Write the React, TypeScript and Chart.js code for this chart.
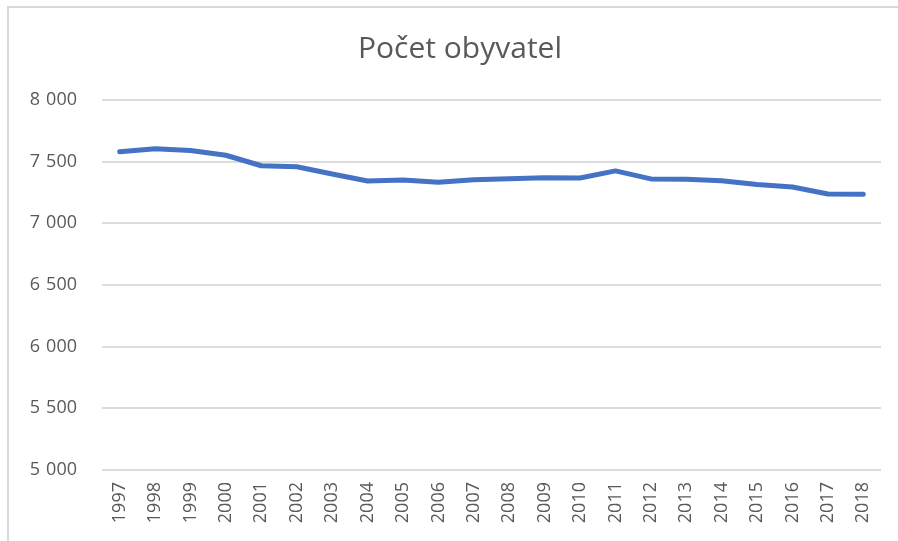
import React, { useEffect, useRef } from "react";
import { Chart, registerables } from "chart.js";

Chart.register(...registerables);

const years: string[] = [
  "1997", "1998", "1999", "2000", "2001", "2002", "2003", "2004", "2005", "2006", "2007",
  "2008", "2009", "2010", "2011", "2012", "2013", "2014", "2015", "2016", "2017", "2018",
];
const population: number[] = [
  7580, 7605, 7590, 7552, 7467, 7459, 7400, 7343, 7351, 7333, 7353,
  7362, 7370, 7368, 7425, 7360, 7357, 7346, 7314, 7295, 7238, 7235,
];
const chartTitle = "Počet obyvatel";
const yMin = 5000;
const yMax = 8000;
const yStep = 500;

const fmt = (v: number) => {
  const s = String(Math.round(v));
  return s.replace(/\B(?=(\d{3})+(?!\d))/g, "\u2004");
};

const FONT = "'Open Sans', 'Noto Sans', sans-serif";

const titlePlugin = {
  id: "centeredTitle",
  afterDraw(chart: any) {
    const ctx = chart.ctx;
    ctx.save();
    ctx.font = `normal 30px ${FONT}`;
    ctx.fillStyle = "#595959";
    ctx.textAlign = "center";
    ctx.textBaseline = "middle";
    ctx.fillText(chartTitle, chart.width / 2, 40);
    ctx.restore();
  },
};

export default function App() {
  const ref = useRef<HTMLCanvasElement | null>(null);
  useEffect(() => {
    if (!ref.current) return;
    const chart = new Chart(ref.current, {
      type: "line",
      data: {
        labels: years,
        datasets: [
          {
            data: population,
            borderColor: "#4472C4",
            backgroundColor: "#4472C4",
            borderWidth: 5,
            pointRadius: 0,
            tension: 0,
            borderCapStyle: "round",
            borderJoinStyle: "round",
          },
        ],
      },
      plugins: [titlePlugin],
      options: {
        animation: false,
        responsive: false,
        maintainAspectRatio: false,
        layout: { padding: { top: 91, right: 29, left: 0, bottom: 0 } },
        plugins: {
          legend: { display: false },
          tooltip: { enabled: false },
          title: { display: false },
        },
        scales: {
          x: {
            type: "category",
            offset: true,
            grid: { display: false, drawTicks: false },
            border: { display: false },
            ticks: {
              color: "#595959",
              font: { family: FONT, size: 18 },
              minRotation: 90,
              maxRotation: 90,
              autoSkip: false,
              padding: 12,
            },
            afterFit: (scale: any) => {
              scale.height = 71;
            },
          },
          y: {
            min: yMin,
            max: yMax,
            grid: { color: "#dcdcdc", lineWidth: 2, drawTicks: false },
            border: { display: false },
            ticks: {
              stepSize: yStep,
              color: "#595959",
              font: { family: FONT, size: 18 },
              padding: 25,
              callback: (v: any) => fmt(Number(v)),
            },
            afterFit: (scale: any) => {
              scale.width = 92;
            },
          },
        },
      },
    });
    return () => chart.destroy();
  }, []);

  return (
    <div style={{ position: "fixed", left: 0, top: 0, width: 898, height: 541, overflow: "hidden", background: "#fff" }}>
      <div
        style={{
          position: "absolute",
          left: 7,
          top: 6,
          width: 1000,
          height: 600,
          borderLeft: "2px solid #d9d9d9",
          borderTop: "2px solid #d9d9d9",
        }}
      />
      <canvas
        ref={ref}
        width={900}
        height={532}
        style={{ position: "absolute", left: 10, top: 9, width: 900, height: 532 }}
      />
    </div>
  );
}
